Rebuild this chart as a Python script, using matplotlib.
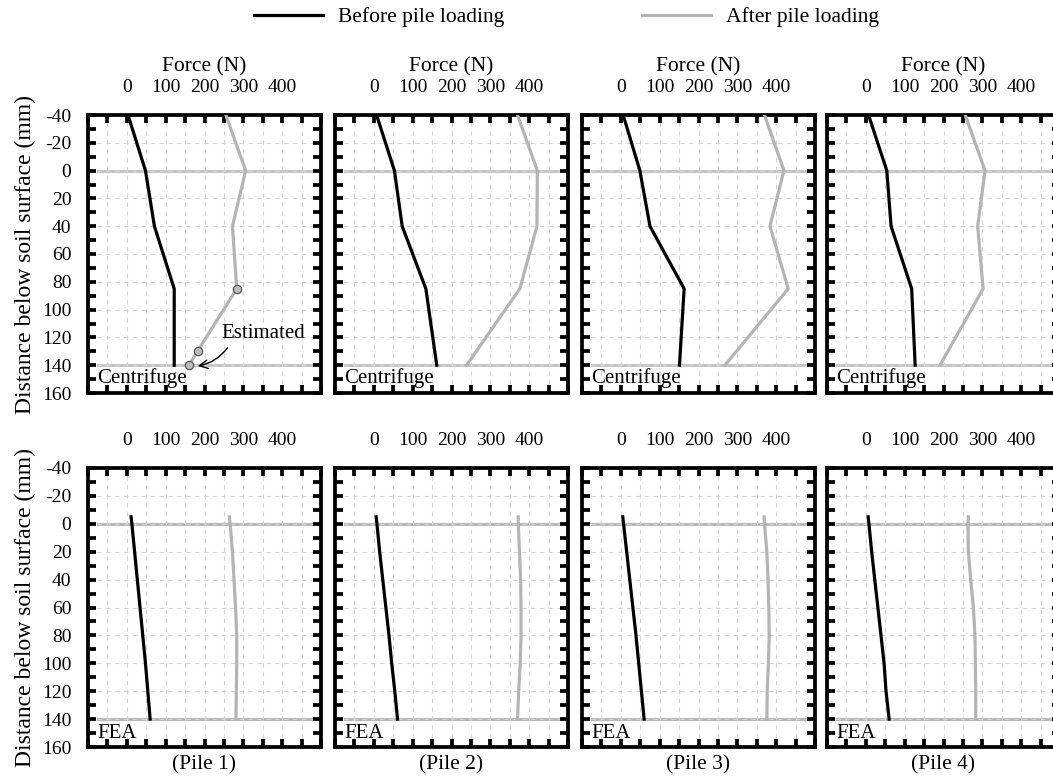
import numpy as np
import matplotlib
matplotlib.use("Agg")
import matplotlib.pyplot as plt
from matplotlib.ticker import MultipleLocator

plt.rcParams['font.family'] = ['Liberation Serif', 'DejaVu Serif']
plt.rcParams['font.size'] = 14
plt.rcParams['axes.unicode_minus'] = False

# centrifuge measurements (depth in mm, force in N)
depth_cf = [-40, 0, 40, 85, 140]
before_cf = [
    [3, 48, 71, 122, 122],
    [7, 53, 73, 134, 162],
    [6, 49, 75, 163, 151],
    [7, 54, 65, 118, 127],
]
# pile 1 after loading has an extra estimated point near the tip
depth_after_p1 = [-40, 0, 40, 85, 130, 140]
after_p1 = [255, 306, 272, 283, 182, 160]
after_cf = [
    after_p1,
    [370, 421, 420, 376, 239],
    [370, 420, 384, 431, 268],
    [256, 307, 288, 302, 191],
]
est_depth = [85, 130, 140]
est_force = [283, 182, 160]

# FEA results
depth_fea = [-5, 0, 20, 40, 60, 80, 100, 120, 140]
before_fea = [
    [11, 13, 20, 27, 34, 41, 48, 54, 60],
    [6, 8, 15, 23, 31, 39, 46, 54, 61],
    [5, 7, 15, 23, 31, 39, 46, 53, 60],
    [6, 8, 15, 23, 31, 39, 47, 52, 60],
]
after_fea = [
    [264, 266, 272, 276, 280, 283, 283, 282, 281],
    [372, 372, 375, 378, 379, 379, 377, 373, 370],
    [369, 370, 376, 379, 381, 382, 380, 377, 376],
    [264, 263, 264, 270, 277, 281, 282, 283, 283],
]
piles = ['(Pile 1)', '(Pile 2)', '(Pile 3)', '(Pile 4)']

xticks = np.arange(-100, 501, 50)
xlabels = [str(int(v)) if (v >= 0 and v <= 400 and v % 100 == 0) else '' for v in xticks]

W, H = 1053, 779
fig = plt.figure(figsize=(W / 100, H / 100), dpi=100)
lefts = [88, 335, 582, 827]
rows = [(115, 393), (468, 747)]

grey = '#b4b4b4'


def style_axes(ax, ref_color):
    ax.set_xlim(-100, 500)
    ax.set_ylim(160, -40)
    ax.set_xticks(xticks)
    ax.set_xticklabels(xlabels)
    ax.xaxis.tick_top()
    ax.yaxis.set_major_locator(MultipleLocator(20))
    ax.yaxis.set_minor_locator(MultipleLocator(10))
    ax.tick_params(axis='x', which='both', direction='in', top=True, bottom=True,
                   labeltop=True, labelbottom=False, length=5.5, width=2.7, pad=14,
                   labelsize=14)
    ax.tick_params(axis='y', which='both', direction='in', left=True, right=True,
                   length=5.5, width=2.7, pad=12, labelsize=14)
    ax.grid(True, which='major', color='#d4d4d4', linestyle=(0, (4, 4)), linewidth=0.8)
    for s in ax.spines.values():
        s.set_linewidth(2.7)
    # soil surface and pile tip levels
    ax.plot([-75, 475], [0, 0], color=ref_color, lw=2.2, zorder=1)
    ax.plot([-75, 475], [140, 140], color=ref_color, lw=2.2, zorder=1)


for i in range(4):
    for r, (top, bot) in enumerate(rows):
        ax = fig.add_axes([lefts[i] / W, 1 - bot / H, 233 / W, (bot - top) / H])
        if r == 0:
            style_axes(ax, '#c4c4c4')
            d_after = depth_after_p1 if i == 0 else depth_cf
            ax.plot(before_cf[i], depth_cf, color='black', lw=2.3, zorder=3)
            ax.plot(after_cf[i], d_after, color=grey, lw=2.3, zorder=3)
            ax.text(-76, 149, 'Centrifuge', ha='left', va='center', fontsize=15, zorder=4)
            ax.xaxis.set_label_position('top')
            ax.set_xlabel('Force (N)', fontsize=15.5, labelpad=5)
            if i == 0:
                ax.plot(est_force, est_depth, 'o', ms=6, mfc='#bdbdbd', mec='#555555',
                        mew=0.9, zorder=4)
                ax.annotate('Estimated', xy=(172, 141), xytext=(350, 117),
                            ha='center', va='center', fontsize=15,
                            arrowprops=dict(arrowstyle='->', color='black', lw=1.0,
                                            connectionstyle='arc3,rad=-0.25',
                                            relpos=(0.12, 0.0), shrinkA=2, shrinkB=3))
        else:
            style_axes(ax, '#b8b8b8')
            ax.plot(before_fea[i], depth_fea, color='black', lw=2.3, zorder=3)
            ax.plot(after_fea[i], depth_fea, color=grey, lw=2.3, zorder=3)
            ax.text(-76, 150, 'FEA', ha='left', va='center', fontsize=15, zorder=4)
            ax.text(0.5, -0.065, piles[i], transform=ax.transAxes, ha='center',
                    va='center', fontsize=15.5)
        if i == 0:
            ax.set_ylabel('Distance below soil surface (mm)', fontsize=17, labelpad=4)
        else:
            ax.set_yticklabels([])

# legend across the top
h1, = plt.plot([], [], color='black', lw=2.3, label='Before pile loading')
h2, = plt.plot([], [], color=grey, lw=2.3, label='After pile loading')
fig.legend(handles=[h1, h2], loc='center', bbox_to_anchor=(0.538, 1 - 17 / H),
           ncol=2, frameon=False, fontsize=15.5, handlelength=3.2,
           columnspacing=6.4, handletextpad=0.7)

fig.savefig('out.png', dpi=100)
